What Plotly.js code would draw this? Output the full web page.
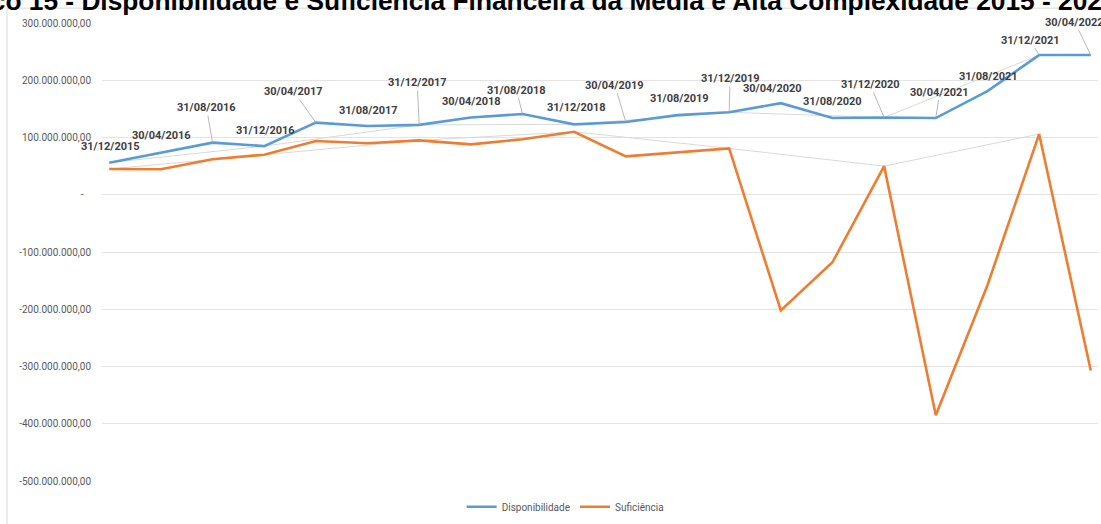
<!DOCTYPE html>
<html>
<head>
<meta charset="utf-8">
<script src="https://cdn.plot.ly/plotly-3.0.1.min.js"></script>
<style>
html,body{margin:0;padding:0;background:#fff;overflow:hidden;}
#chart{width:1101px;height:524px;}
</style>
</head>
<body>
<div id="chart"></div>
<script>
// ---- data ----
const categories = ["31/12/2015","30/04/2016","31/08/2016","31/12/2016","30/04/2017","31/08/2017","31/12/2017","30/04/2018","31/08/2018","31/12/2018","30/04/2019","31/08/2019","31/12/2019","30/04/2020","31/08/2020","31/12/2020","30/04/2021","31/08/2021","31/12/2021","30/04/2022"];
const disponibilidade = [56e6, 74e6, 91e6, 85e6, 126e6, 120e6, 122e6, 135e6, 141e6, 123e6, 127e6, 139e6, 144e6, 160e6, 134e6, 135e6, 134e6, 181e6, 244e6, 244e6];
const suficiencia = [45e6, 44.5e6, 62e6, 70e6, 94e6, 90e6, 95e6, 88e6, 97e6, 110e6, 67e6, 74e6, 81e6, -202e6, -118e6, 50e6, -385e6, -158e6, 106e6, -307e6];
const tickValues = [300e6, 200e6, 100e6, 0, -100e6, -200e6, -300e6, -400e6, -500e6];
const tickLabels = ["300.000.000,00","200.000.000,00","100.000.000,00","-\u00a0\u00a0\u00a0","-100.000.000,00","-200.000.000,00","-300.000.000,00","-400.000.000,00","-500.000.000,00"];
const seriesNames = ["Disponibilidade","Suficiência"];

// ---- label placement (pixel offsets from point, and whether a leader line shows) ----
const labelDx = [1, 1, -6, 1, -22, 1, -2, 1, -6, 2, -11, 2, 1, -8, 0, -14, 4, 1, -9, -16];
const labelDy = [-16, -17, -35, -16, -31, -16, -42, -16, -24, -17, -37, -17, -34, -15, -17, -33, -26, -15, -15, -33];
const leader = [0,0,1,0,1,0,1,0,1,0,1,0,1,0,0,1,1,0,1,1];

const blue = '#5B9BD5', orange = '#ED7D31', grey = '#d9d9d9';

// year-end connector lines (31/12 values)
const yeIdx = categories.map((c,i)=>c.startsWith('31/12')?i:-1).filter(i=>i>=0);

const traces = [
  {x: yeIdx.map(i=>categories[i]), y: yeIdx.map(i=>disponibilidade[i]), type:'scatter', mode:'lines',
   line:{color:grey, width:1}, showlegend:false, hoverinfo:'skip'},
  {x: yeIdx.map(i=>categories[i]), y: yeIdx.map(i=>suficiencia[i]), type:'scatter', mode:'lines',
   line:{color:grey, width:1}, showlegend:false, hoverinfo:'skip'},
  {x: categories, y: disponibilidade, name: seriesNames[0], type:'scatter', mode:'lines',
   line:{color:blue, width:2.6}},
  {x: categories, y: suficiencia, name: seriesNames[1], type:'scatter', mode:'lines',
   line:{color:orange, width:2.6}}
];

const annotations = categories.map((c,i)=>({
  x: c, y: disponibilidade[i], xref:'x', yref:'y',
  text: c, showarrow: true, arrowhead: 0, arrowwidth: 0.8,
  arrowcolor: leader[i] ? '#a6a6a6' : 'rgba(0,0,0,0)',
  ax: labelDx[i], ay: labelDy[i], standoff: 0,
  font:{family:'Roboto, sans-serif', size:11, color:'#404040', weight:'bold'}
}));

// plot area pixel geometry
const L = 102, T = 23, W = 996, H = 462;
const px = v => (v - L) / W;
const py = v => (T + H - v) / H;

const layout = {
  width: 1101, height: 524,
  margin: {l: L, r: 1101 - L - W, t: T, b: 524 - T - H, pad: 0},
  paper_bgcolor: '#fff', plot_bgcolor: '#fff',
  title: {
    text: 'Gráfico 15 - Disponibilidade e Suficiência Financeira da Média e Alta Complexidade 2015 - 2022',
    font: {family: 'Liberation Sans, Arial, sans-serif', size: 26.3, color: '#000', weight: 'bold'},
    x: 0.475, xref: 'container', xanchor: 'center',
    y: 0.998, yref: 'container', yanchor: 'middle'
  },
  xaxis: {
    type: 'category', categoryorder: 'array', categoryarray: categories,
    range: [-0.14, 19.14], showticklabels: false, showgrid: false,
    zeroline: false, showline: false, ticks: ''
  },
  yaxis: {
    range: [-500e6, 300e6], tickvals: tickValues, ticktext: tickLabels,
    showgrid: true, gridcolor: '#e3e3e3', gridwidth: 1, zeroline: false, showline: false, ticks: '',
    ticklabelstandoff: 10,
    tickfont: {family: 'Roboto, sans-serif', size: 10, color: '#595959'}
  },
  showlegend: true,
  legend: {
    orientation: 'h', x: 0.465, xanchor: 'center', y: py(511), yanchor: 'middle',
    font: {family: 'Roboto, sans-serif', size: 10, color: '#595959'},
    itemwidth: 30, bgcolor: 'rgba(0,0,0,0)'
  },
  shapes: [{
    type: 'rect', xref: 'paper', yref: 'paper', layer: 'below',
    x0: px(7), x1: px(1120), y0: py(8), y1: py(540),
    line: {color: '#d9d9d9', width: 1}, fillcolor: 'rgba(0,0,0,0)'
  }],
  annotations: annotations,
  hovermode: false
};

Plotly.newPlot('chart', traces, layout, {displayModeBar: false, staticPlot: true});
</script>
</body>
</html>
